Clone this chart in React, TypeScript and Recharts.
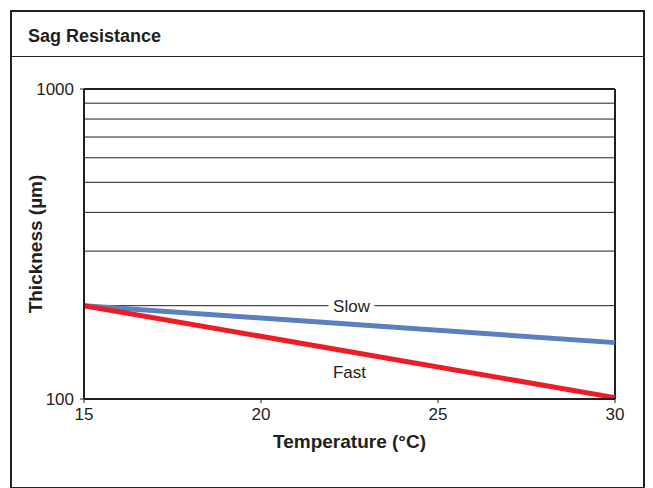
import React from 'react';
import { LineChart, Line, XAxis, YAxis, ReferenceLine, ReferenceDot, Label } from 'recharts';

// temperature (°C) vs thickness (µm)
const temps = [15, 30];
const slow = [200, 152];
const fast = [200, 101];
const xTicks = [15, 20, 25, 30];
const yTicks = [100, 1000];
const gridValues = [200, 300, 400, 500, 600, 700, 800, 900];

const data = temps.map((t, i) => ({ t, slow: slow[i], fast: fast[i] }));

const INK = '#231f20';
const FONT = '"Liberation Sans", Arial, sans-serif';

const SlowLabel = (props: any) => {
  const { viewBox } = props;
  const cx = viewBox.x + viewBox.width / 2 + 2;
  const cy = viewBox.y;
  return (
    <g>
      <rect x={cx - 23} y={cy - 9} width={46} height={18} fill="#fff" />
      <text x={cx} y={cy} dy={6} textAnchor="middle" fontSize={17} fill={INK} fontFamily={FONT}>
        Slow
      </text>
    </g>
  );
};

export default function App() {
  return (
    <div style={{ position: 'absolute', left: 0, top: 0, width: 653, height: 488, background: '#fff', fontFamily: FONT }}>
      <div
        style={{
          position: 'absolute',
          left: 10,
          top: 10,
          width: 631,
          height: 475,
          border: `2px solid ${INK}`,
        }}
      >
        <div
          style={{
            height: 45,
            borderBottom: `1px solid ${INK}`,
            boxSizing: 'border-box',
            paddingLeft: 16,
            paddingTop: 14,
            fontSize: 18,
            fontWeight: 'bold',
            color: INK,
          }}
        >
          Sag Resistance
        </div>
      </div>
      <div style={{ position: 'absolute', left: 0, top: 0 }}>
        <LineChart width={653} height={488} data={data} margin={{ top: 89, right: 38, bottom: 29, left: 0 }}>
          {gridValues.map((v) => (
            <ReferenceLine key={v} y={v} stroke={INK} strokeWidth={1} />
          ))}
          <ReferenceLine y={200} stroke="none" label={<SlowLabel />} />
          <ReferenceLine y={1000} stroke={INK} strokeWidth={2} />
          <ReferenceLine x={30} stroke={INK} strokeWidth={2} />
          <XAxis
            dataKey="t"
            type="number"
            domain={[15, 30]}
            ticks={xTicks}
            height={60}
            axisLine={{ stroke: INK, strokeWidth: 2 }}
            tickLine={{ stroke: INK }}
            tickSize={4}
            tick={{ fontSize: 17, fill: INK, fontFamily: FONT, dy: 3 }}
          >
            <Label
              value="Temperature (°C)"
              position="insideBottom"
              offset={11}
              style={{ fontSize: 19, fontWeight: 'bold', fill: INK, fontFamily: FONT }}
            />
          </XAxis>
          <YAxis
            scale="log"
            type="number"
            domain={[100, 1000]}
            ticks={yTicks}
            allowDataOverflow
            width={84}
            axisLine={{ stroke: INK, strokeWidth: 2 }}
            tickLine={{ stroke: INK }}
            tickSize={4}
            tick={{ fontSize: 17, fill: INK, fontFamily: FONT, dx: -4 }}
          >
            <Label
              value="Thickness (µm)"
              angle={-90}
              position="insideLeft"
              offset={35}
              style={{ fontSize: 19, fontWeight: 'bold', fill: INK, fontFamily: FONT, textAnchor: 'middle' }}
            />
          </YAxis>
          <Line dataKey="slow" stroke="#5a80bf" strokeWidth={5} dot={false} isAnimationActive={false} />
          <Line dataKey="fast" stroke="#ee1d25" strokeWidth={5} dot={false} isAnimationActive={false} />
          <ReferenceDot x={22.5} y={122} r={0} stroke="none" fill="none">
            <Label value="Fast" position="center" style={{ fontSize: 17, fill: INK, fontFamily: FONT }} />
          </ReferenceDot>
        </LineChart>
      </div>
    </div>
  );
}
